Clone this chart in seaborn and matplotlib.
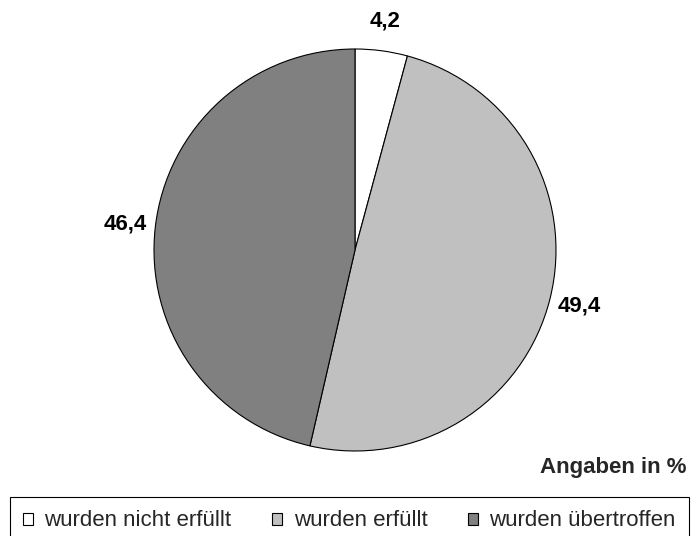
import matplotlib
matplotlib.use("Agg")
import matplotlib.pyplot as plt
import seaborn as sns

# data
categories = ["wurden nicht erfüllt", "wurden erfüllt", "wurden übertroffen"]
values = [4.2, 49.4, 46.4]
colors = ["#ffffff", "#c0c0c0", "#808080"]

sns.set_style("white")
plt.rcParams["font.family"] = ["Liberation Sans", "DejaVu Sans"]

W, H = 692, 536
fig = plt.figure(figsize=(W / 100, H / 100), dpi=100)

# pie axes: center (355, 250) px, radius 201 px
cx, cy, r = 355, 250, 201
ax = fig.add_axes([(cx - r) / W, 1 - (cy + r) / H, 2 * r / W, 2 * r / H])

wedges, _, autotexts = ax.pie(
    values,
    colors=colors,
    startangle=90,
    counterclock=False,
    radius=1,
    autopct=lambda p: f"{p:.1f}".replace(".", ","),
    pctdistance=1.15,
    wedgeprops=dict(edgecolor="black", linewidth=0.8),
    textprops=dict(fontsize=16, fontweight="bold", color="black"),
)
ax.set_xlim(-1, 1)
ax.set_ylim(-1, 1)
ax.set_aspect("equal")
ax.axis("off")

fig.text(687 / W, 1 - 467 / H, "Angaben in %", ha="right", va="center",
         fontsize=16, fontweight="bold")

# legend box (bottom edge runs past the image border)
x0, x1, y0, y1 = 10, 689, 500, 542
leg = fig.legend(
    wedges, categories,
    loc="center", ncol=3,
    bbox_to_anchor=(x0 / W, 1 - y1 / H, (x1 - x0) / W, (y1 - y0) / H),
    bbox_transform=fig.transFigure,
    mode="expand",
    fontsize=16,
    frameon=True, fancybox=False, framealpha=1,
    edgecolor="black",
    handlelength=0.45, handleheight=0.45, handletextpad=0.5,
    borderaxespad=0, borderpad=0.6, columnspacing=1.0,
)
leg.get_frame().set_linewidth(0.8)

fig.savefig("out.png", dpi=100, facecolor="white")
